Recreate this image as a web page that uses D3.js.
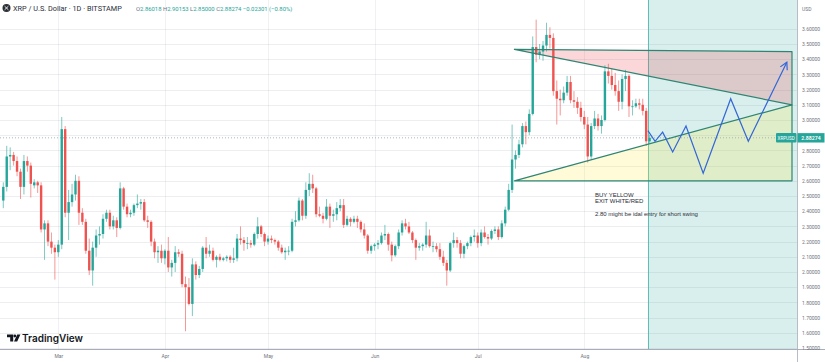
<!DOCTYPE html>
<html>
<head>
<meta charset="utf-8">
<script src="https://cdn.jsdelivr.net/npm/d3@7"></script>
<style>
  html, body { margin: 0; padding: 0; background: #fff; }
  svg { display: block; font-family: Roboto, "Liberation Sans", sans-serif; }
</style>
</head>
<body>
<svg id="chart" width="825" height="362"></svg>
<script>
// daily candles [open, high, low, close]
var candlesFeb = [ // from Feb 13
  [2.47,2.59,2.42,2.56],[2.56,2.83,2.53,2.76],[2.76,2.82,2.67,2.77],[2.77,2.79,2.70,2.73],
  [2.73,2.76,2.63,2.66],[2.66,2.68,2.48,2.56],[2.56,2.77,2.51,2.73],[2.73,2.76,2.66,2.70],
  [2.70,2.72,2.49,2.58],[2.57,2.61,2.55,2.59],[2.59,2.60,2.52,2.57],[2.57,2.59,2.26,2.28],
  [2.28,2.34,2.08,2.32],[2.32,2.34,2.17,2.20],[2.20,2.26,2.12,2.16],[2.16,2.18,1.95,2.13]
];
var candlesMar = [
  [2.13,2.21,2.10,2.18],[2.18,3.02,2.15,2.94],[2.94,2.96,2.36,2.39],[2.39,2.54,2.21,2.46],
  [2.46,2.58,2.43,2.51],[2.51,2.64,2.47,2.60],[2.60,2.63,2.31,2.39],[2.39,2.42,2.31,2.33],
  [2.33,2.35,2.12,2.14],[2.14,2.22,1.98,2.01],[2.01,2.20,1.91,2.16],[2.16,2.28,2.10,2.24],
  [2.24,2.30,2.18,2.25],[2.25,2.38,2.22,2.35],[2.35,2.41,2.33,2.39],[2.39,2.41,2.28,2.30],
  [2.30,2.37,2.28,2.34],[2.34,2.36,2.23,2.29],[2.29,2.59,2.28,2.55],[2.55,2.56,2.41,2.43],
  [2.43,2.45,2.36,2.38],[2.38,2.41,2.36,2.39],[2.39,2.45,2.37,2.44],[2.44,2.51,2.42,2.45],
  [2.45,2.48,2.41,2.46],[2.46,2.48,2.33,2.34],[2.34,2.37,2.29,2.33],[2.33,2.34,2.17,2.20],
  [2.20,2.22,2.09,2.13],[2.13,2.17,2.06,2.14],[2.14,2.18,2.06,2.09]
];
var candlesApr = [
  [2.09,2.15,2.05,2.14],[2.14,2.23,2.00,2.03],[2.03,2.08,1.97,2.06],[2.06,2.17,2.00,2.13],
  [2.13,2.15,2.10,2.12],[2.12,2.14,1.90,1.92],[1.92,1.97,1.61,1.90],[1.90,1.96,1.78,1.79],
  [1.79,2.09,1.71,2.05],[2.05,2.07,1.95,1.98],[1.98,2.04,1.96,2.02],[2.02,2.17,2.00,2.16],
  [2.16,2.23,2.09,2.12],[2.12,2.18,2.10,2.14],[2.14,2.16,2.07,2.08],[2.08,2.11,2.03,2.10],
  [2.10,2.12,2.07,2.08],[2.08,2.10,2.07,2.09],[2.09,2.11,2.07,2.10],[2.10,2.11,2.06,2.08],
  [2.08,2.16,2.06,2.09],[2.09,2.25,2.07,2.22],[2.22,2.30,2.18,2.21],[2.21,2.23,2.14,2.19],
  [2.19,2.23,2.15,2.19],[2.19,2.21,2.16,2.18],[2.18,2.26,2.17,2.25],[2.25,2.36,2.22,2.30],
  [2.30,2.31,2.23,2.25],[2.25,2.26,2.17,2.20]
];
var candlesMay = [
  [2.20,2.24,2.18,2.22],[2.22,2.24,2.19,2.21],[2.21,2.22,2.18,2.20],[2.20,2.21,2.14,2.16],
  [2.16,2.18,2.12,2.13],[2.13,2.16,2.08,2.14],[2.14,2.17,2.11,2.14],[2.14,2.35,2.13,2.33],
  [2.33,2.40,2.30,2.34],[2.34,2.49,2.33,2.47],[2.47,2.48,2.34,2.37],[2.37,2.59,2.35,2.54],
  [2.54,2.65,2.50,2.58],[2.58,2.64,2.52,2.55],[2.55,2.56,2.36,2.38],[2.38,2.43,2.36,2.37],
  [2.37,2.39,2.32,2.35],[2.35,2.48,2.34,2.43],[2.43,2.45,2.29,2.37],[2.37,2.41,2.33,2.38],
  [2.38,2.46,2.34,2.42],[2.42,2.48,2.40,2.44],[2.44,2.48,2.29,2.31],[2.31,2.37,2.30,2.35],
  [2.35,2.36,2.30,2.33],[2.33,2.37,2.32,2.35],[2.35,2.37,2.29,2.33],[2.33,2.34,2.26,2.28],
  [2.28,2.32,2.22,2.24],[2.24,2.25,2.12,2.14],[2.14,2.18,2.12,2.17]
];
var candlesJun = [
  [2.17,2.19,2.14,2.18],[2.18,2.21,2.15,2.19],[2.19,2.26,2.18,2.24],[2.24,2.31,2.21,2.25],
  [2.25,2.26,2.14,2.18],[2.18,2.20,2.07,2.11],[2.11,2.18,2.10,2.17],[2.17,2.28,2.15,2.26],
  [2.26,2.34,2.24,2.32],[2.32,2.35,2.28,2.30],[2.30,2.33,2.25,2.26],[2.26,2.27,2.19,2.21],
  [2.21,2.22,2.08,2.16],[2.16,2.19,2.14,2.17],[2.17,2.19,2.14,2.18],[2.18,2.33,2.16,2.24],
  [2.24,2.28,2.16,2.17],[2.17,2.20,2.13,2.17],[2.17,2.19,2.13,2.15],[2.15,2.19,2.08,2.10],
  [2.10,2.14,2.04,2.06],[2.06,2.08,1.91,2.01],[2.01,2.20,2.00,2.19],[2.19,2.26,2.16,2.21],
  [2.21,2.23,2.16,2.19],[2.19,2.21,2.09,2.12],[2.12,2.18,2.09,2.17],[2.17,2.20,2.15,2.19],
  [2.19,2.24,2.17,2.23],[2.23,2.28,2.20,2.24]
];
var candlesJul = [
  [2.24,2.26,2.16,2.19],[2.19,2.28,2.17,2.26],[2.26,2.30,2.22,2.23],[2.23,2.25,2.18,2.22],
  [2.22,2.28,2.21,2.27],[2.27,2.30,2.25,2.28],[2.28,2.30,2.21,2.23],[2.23,2.34,2.22,2.32],
  [2.32,2.43,2.30,2.41],[2.41,2.58,2.40,2.54],[2.54,2.97,2.52,2.74],[2.74,2.80,2.68,2.77],
  [2.77,2.87,2.75,2.84],[2.84,2.98,2.82,2.96],[2.96,2.99,2.84,2.92],[2.92,3.07,2.90,3.04],
  [3.04,3.55,3.03,3.48],[3.48,3.66,3.38,3.43],[3.43,3.50,3.40,3.45],[3.45,3.52,3.39,3.49],
  [3.49,3.64,3.45,3.56],[3.56,3.61,3.47,3.54],[3.54,3.57,3.16,3.19],[3.19,3.26,2.97,3.14],
  [3.14,3.20,3.03,3.13],[3.13,3.22,3.11,3.18],[3.18,3.29,3.16,3.25],[3.25,3.29,3.11,3.13],
  [3.13,3.19,3.08,3.12],[3.12,3.15,3.04,3.08],[3.08,3.12,2.99,3.02]
];
var candlesAug = [
  [3.02,3.06,2.94,2.97],[2.97,3.02,2.72,2.76],[2.76,2.98,2.74,2.96],[2.96,3.06,2.94,3.01],
  [3.01,3.04,2.93,2.96],[2.96,3.03,2.91,3.00],[3.00,3.36,2.99,3.32],[3.32,3.37,3.24,3.29],
  [3.29,3.34,3.20,3.23],[3.23,3.31,3.16,3.19],[3.19,3.26,3.06,3.12],[3.12,3.30,3.07,3.27],
  [3.27,3.33,3.19,3.29],[3.29,3.30,3.02,3.09],[3.09,3.13,3.03,3.09],[3.09,3.14,3.08,3.11],
  [3.11,3.14,3.07,3.10],[3.10,3.14,3.03,3.06],[3.06,3.08,2.83,2.86],[2.86,2.90153,2.85,2.88274]
];
var monthBlocks = [[1, 13, candlesFeb], [2, 1, candlesMar], [3, 1, candlesApr], [4, 1, candlesMay],
                   [5, 1, candlesJun], [6, 1, candlesJul], [7, 1, candlesAug]];

var priceTicks = d3.range(15, 37).map(function (v) { return v / 10; });
var monthTicks = ["2025-03-01", "2025-04-01", "2025-05-01", "2025-06-01", "2025-07-01", "2025-08-01"];
var lastPrice = 2.88274;
var headerTitle = "XRP / U.S. Dollar \u00b7 1D \u00b7 BITSTAMP";
var headerValues = [["O", "2.86018"], ["H", "2.90153"], ["L", "2.85000"], ["C", "2.88274"], ["", "\u22120.02301 (\u22120.80%)"]];

// drawings, in [time, price]
var upperTriangle = [["2025-07-11T16:00Z", 3.465], ["2025-09-30T10:00Z", 3.45], ["2025-09-30T10:00Z", 3.10]];
var lowerTriangle = [["2025-07-11T16:00Z", 2.60], ["2025-09-30T10:00Z", 2.60], ["2025-09-30T10:00Z", 3.10]];
var zoneStart = "2025-08-19T12:00Z";
var projection = [
  ["2025-08-19T12:00Z", 2.93], ["2025-08-21T14:00Z", 2.86], ["2025-08-23T19:00Z", 2.92],
  ["2025-08-26T17:00Z", 2.79], ["2025-08-30T14:00Z", 2.96], ["2025-09-04T14:00Z", 2.65],
  ["2025-09-12T14:00Z", 3.14], ["2025-09-17T17:00Z", 2.86], ["2025-09-28T22:00Z", 3.38]
];
var noteAnchor = ["2025-08-04T02:00Z", 2.493];
var noteLines = ["BUY YELLOW", "EXIT WHITE/RED", "", "2.80 might be idal entry for short swing"];

var W = 825, H = 362, plotR = 797, plotB = 349;
var UP = "#26a69a", DOWN = "#ef5350";

var candles = [];
monthBlocks.forEach(function (b) {
  b[2].forEach(function (c, i) {
    candles.push({ date: new Date(Date.UTC(2025, b[0], b[1] + i)), o: c[0], h: c[1], l: c[2], c: c[3] });
  });
});

var x = d3.scaleUtc().domain([Date.UTC(2025, 1, 13), Date.UTC(2025, 9, 1)]).range([3.3, 794.0]);
var y = d3.scaleLinear().domain([1.5, 3.6]).range([348, 28.8]);
var pt = function (p) { return [x(d3.isoParse(p[0])), y(p[1])]; };

var svg = d3.select("#chart");
svg.append("rect").attr("width", W).attr("height", H).attr("fill", "#fff");
svg.append("clipPath").attr("id", "plot").append("rect").attr("width", plotR).attr("height", plotB);
var g = svg.append("g").attr("clip-path", "url(#plot)");

// projection zone
var zx = x(d3.isoParse(zoneStart));
g.append("rect").attr("x", zx).attr("y", 0).attr("width", plotR - zx).attr("height", plotB)
  .attr("fill", "rgba(38,166,154,0.18)");

// grid
g.selectAll(".hg").data(priceTicks).enter().append("line")
  .attr("x1", 0).attr("x2", plotR).attr("y1", function (d) { return Math.round(y(d)) + 0.5; })
  .attr("y2", function (d) { return Math.round(y(d)) + 0.5; })
  .attr("stroke", "rgba(110,125,150,0.13)");
g.selectAll(".vg").data(monthTicks).enter().append("line")
  .attr("y1", 0).attr("y2", plotB)
  .attr("x1", function (d) { return Math.round(x(d3.isoParse(d))) + 0.5; })
  .attr("x2", function (d) { return Math.round(x(d3.isoParse(d))) + 0.5; })
  .attr("stroke", "rgba(110,125,150,0.11)");

g.append("line").attr("x1", Math.round(zx) + 0.5).attr("x2", Math.round(zx) + 0.5).attr("y1", 0).attr("y2", plotB)
  .attr("stroke", "#5dbfb3").attr("stroke-width", 1);

// triangle fills
g.append("path").attr("d", d3.line()(upperTriangle.map(pt)) + "Z").attr("fill", "rgba(242,54,69,0.2)");
g.append("path").attr("d", d3.line()(lowerTriangle.map(pt)) + "Z").attr("fill", "rgba(255,235,59,0.2)");

// last price dotted line
g.append("line").attr("x1", 0).attr("x2", plotR).attr("y1", y(lastPrice)).attr("y2", y(lastPrice))
  .attr("stroke", "#9aa3ad").attr("stroke-dasharray", "1,2").attr("stroke-width", 0.8);

// candles
var bw = 2.4;
var cg = g.append("g");
cg.selectAll(".wick").data(candles).enter().append("line")
  .attr("x1", function (d) { return x(d.date); }).attr("x2", function (d) { return x(d.date); })
  .attr("y1", function (d) { return y(d.h); }).attr("y2", function (d) { return y(d.l); })
  .attr("stroke", function (d) { return d.c >= d.o ? UP : DOWN; }).attr("stroke-width", 0.8).attr("opacity", 0.75);
cg.selectAll(".body").data(candles).enter().append("rect")
  .attr("x", function (d) { return x(d.date) - bw / 2; }).attr("width", bw)
  .attr("y", function (d) { return y(Math.max(d.o, d.c)); })
  .attr("height", function (d) { return Math.max(0.8, Math.abs(y(d.o) - y(d.c))); })
  .attr("fill", function (d) { return d.c >= d.o ? UP : DOWN; });

// triangle outlines
[upperTriangle, lowerTriangle].forEach(function (t) {
  g.append("path").attr("d", d3.line()(t.map(pt)) + "Z").attr("fill", "none")
    .attr("stroke", "#2f8573").attr("stroke-width", 1.2).attr("stroke-linejoin", "round");
});

// projected path with arrow
var pp = projection.map(pt);
g.append("path").attr("d", d3.line()(pp)).attr("fill", "none").attr("stroke", "#3366d6").attr("stroke-width", 1.2);
var tip = pp[pp.length - 1], prev = pp[pp.length - 2];
var ang = Math.atan2(tip[1] - prev[1], tip[0] - prev[0]);
var head = [-0.5, 0.5].map(function (s) {
  return [tip[0] - 8 * Math.cos(ang + s), tip[1] - 8 * Math.sin(ang + s)];
});
g.append("path").attr("d", d3.line()([head[0], tip, head[1]])).attr("fill", "none")
  .attr("stroke", "#3366d6").attr("stroke-width", 1.2);

// note text
var na = pt(noteAnchor);
var noteY = [0, 5.8, 0, 18.5];
noteLines.forEach(function (t, i) {
  if (!t) return;
  svg.append("text").attr("x", na[0]).attr("y", na[1] + noteY[i]).text(t)
    .attr("font-size", 6).attr("fill", "#2a2e39").attr("font-family", "'Liberation Sans', sans-serif");
});

// axes
svg.append("line").attr("x1", plotR + 0.5).attr("x2", plotR + 0.5).attr("y1", 0).attr("y2", H).attr("stroke", "#b8bcc6");
svg.append("line").attr("x1", 0).attr("x2", W).attr("y1", plotB + 0.5).attr("y2", plotB + 0.5).attr("stroke", "#a9adb7");

// tick labels under the last-price box are hidden, as on the chart
var axisTicks = priceTicks.filter(function (p) { return Math.abs(y(p) - y(lastPrice)) > 6; });
var ya = svg.append("g").attr("transform", "translate(" + plotR + ",0)")
  .call(d3.axisRight(y).tickValues(axisTicks).tickFormat(d3.format(".5f")).tickSize(0).tickPadding(5));
ya.select(".domain").remove();
ya.selectAll("text").attr("font-size", 5).attr("fill", "#6f7480").attr("font-family", "Roboto, sans-serif");

var xa = svg.append("g").attr("transform", "translate(0," + plotB + ")")
  .call(d3.axisBottom(x).tickValues(monthTicks.map(function (d) { return d3.isoParse(d); }))
    .tickFormat(d3.utcFormat("%b")).tickSize(0).tickPadding(5));
xa.select(".domain").remove();
xa.selectAll("text").attr("font-size", 5).attr("fill", "#6f7480").attr("font-family", "Roboto, sans-serif");

svg.append("text").attr("x", 802).attr("y", 11).text("USD").attr("font-size", 5).attr("fill", "#6f7480");

// last price labels
var ly = y(lastPrice);
svg.append("rect").attr("x", 776).attr("y", ly - 4.7).attr("width", 20.5).attr("height", 9.4).attr("fill", UP).attr("rx", 1);
svg.append("text").attr("x", 786.2).attr("y", ly + 1.8).attr("text-anchor", "middle").text("XRPUSD")
  .attr("font-size", 4.6).attr("fill", "#fff");
svg.append("rect").attr("x", plotR + 0.5).attr("y", ly - 4.7).attr("width", 27).attr("height", 9.4).attr("fill", UP);
svg.append("text").attr("x", 811).attr("y", ly + 1.9).attr("text-anchor", "middle").text(lastPrice.toFixed(5))
  .attr("font-size", 5.2).attr("font-weight", 600).attr("fill", "#fff");

// header
var hd = svg.append("g");
hd.append("circle").attr("cx", 6.5).attr("cy", 8).attr("r", 4).attr("fill", "#2b2f36");
hd.append("path").attr("d", "M4.6,6.2 L8.4,9.8 M8.4,6.2 L4.6,9.8").attr("stroke", "#fff").attr("stroke-width", 0.9);
hd.append("text").attr("x", 13).attr("y", 10.8).text(headerTitle).attr("font-size", 7.3).attr("fill", "#2a2e39");
var ht = hd.append("text").attr("x", 136).attr("y", 10.5).attr("font-size", 5.9);
headerValues.forEach(function (v) {
  ht.append("tspan").text(v[0]).attr("fill", "#6f7480");
  ht.append("tspan").text(v[1] + " ").attr("fill", UP);
});

// TradingView logo
var lg = svg.append("g").attr("fill", "#131722");
lg.append("path").attr("d", "M7,334.5 h6.2 v7 h-3 v-4.2 h-3.2 z");
lg.append("circle").attr("cx", 14.8).attr("cy", 336).attr("r", 1.4);
lg.append("path").attr("d", "M17.2,334.5 h3.2 l-3.2,7 h-3.2 z");
svg.append("text").attr("x", 22).attr("y", 341.8).text("TradingView")
  .attr("font-size", 10).attr("font-weight", 600).attr("fill", "#131722").attr("font-family", "Inter, Roboto, sans-serif");
</script>
</body>
</html>
